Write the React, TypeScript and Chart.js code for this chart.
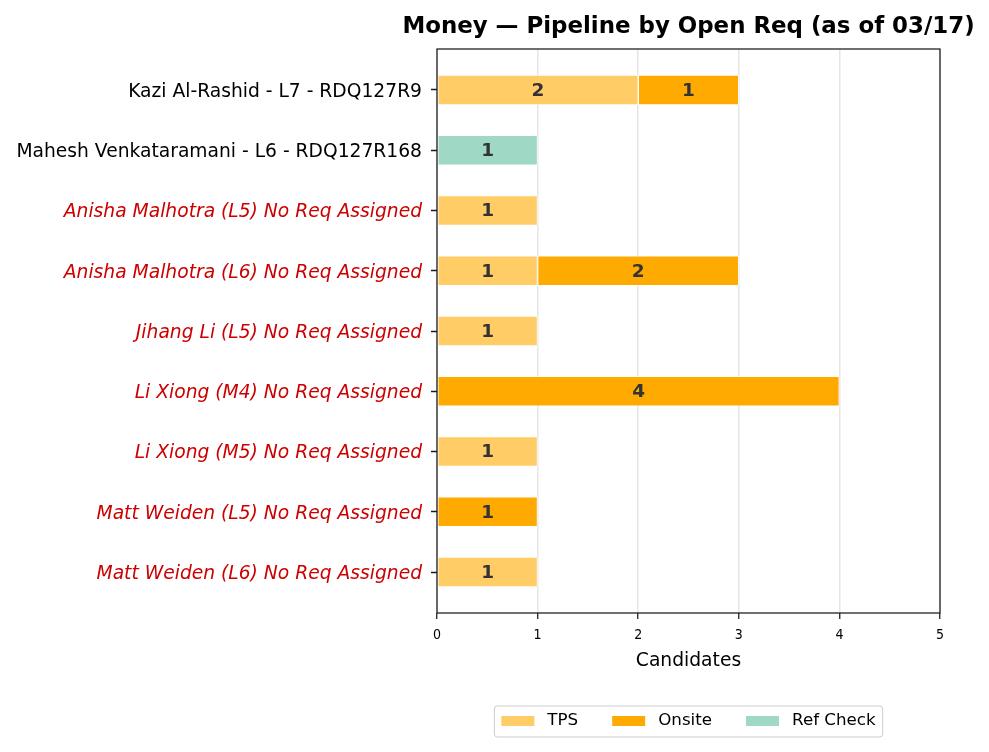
import React, { useEffect, useRef } from "react";
import { Chart, registerables } from "chart.js";

Chart.register(...registerables);

const categories = [
  "Kazi Al-Rashid - L7 - RDQ127R9",
  "Mahesh Venkataramani - L6 - RDQ127R168",
  "Anisha Malhotra (L5) No Req Assigned",
  "Anisha Malhotra (L6) No Req Assigned",
  "Jihang Li (L5) No Req Assigned",
  "Li Xiong (M4) No Req Assigned",
  "Li Xiong (M5) No Req Assigned",
  "Matt Weiden (L5) No Req Assigned",
  "Matt Weiden (L6) No Req Assigned",
];
const unassigned = [false, false, true, true, true, true, true, true, true];
const tps = [2, 0, 1, 1, 1, 0, 1, 0, 1];
const onsite = [1, 0, 0, 2, 0, 4, 0, 1, 0];
const refCheck = [0, 1, 0, 0, 0, 0, 0, 0, 0];
const seriesNames = ["TPS", "Onsite", "Ref Check"];
const seriesColors = ["#FFCC66", "#FFAA00", "#9FD8C4"];
const xTicks = [0, 1, 2, 3, 4, 5];
const titleText = "Money \u2014 Pipeline by Open Req (as of 03/17)";
const xTitle = "Candidates";

const FONT = "'DejaVu Sans', sans-serif";

const decorPlugin = {
  id: "decor",
  afterDatasetsDraw(chart: any) {
    const ctx = chart.ctx;
    ctx.save();
    ctx.font = `bold 18.5px ${FONT}`;
    ctx.fillStyle = "#333333";
    ctx.textAlign = "center";
    ctx.textBaseline = "middle";
    chart.data.datasets.forEach((ds: any, i: number) => {
      const meta = chart.getDatasetMeta(i);
      meta.data.forEach((el: any, j: number) => {
        const v = ds.data[j].x;
        if (!v) return;
        const p = el.getProps(["x", "base", "y"], true);
        ctx.fillText(String(v), (p.x + p.base) / 2, p.y + 1);
      });
    });
    ctx.restore();
  },
  afterDraw(chart: any) {
    const ctx = chart.ctx;
    const a = chart.chartArea;
    const cx = (a.left + a.right) / 2;
    ctx.save();
    // spines
    ctx.strokeStyle = "#1a1a1a";
    ctx.lineWidth = 1.25;
    ctx.strokeRect(a.left, a.top, a.right - a.left, a.bottom - a.top);
    // title
    ctx.fillStyle = "#000";
    ctx.font = `bold 22.9px ${FONT}`;
    ctx.textAlign = "center";
    ctx.textBaseline = "alphabetic";
    ctx.fillText(titleText, cx, 33);
    // x title
    ctx.font = `18.7px ${FONT}`;
    ctx.textBaseline = "middle";
    ctx.fillText(xTitle, cx, 661);
    // legend
    ctx.font = `16.7px ${FONT}`;
    const pad = 7, sw = 33, gap = 13, spacing = 34;
    const widths = seriesNames.map((n) => ctx.measureText(n).width);
    let total = pad * 2;
    widths.forEach((w, i) => {
      total += sw + gap + w + (i < widths.length - 1 ? spacing : 0);
    });
    const bx = cx - total / 2;
    const by = 706, bh = 31;
    ctx.beginPath();
    const r = 3;
    ctx.moveTo(bx + r, by);
    ctx.lineTo(bx + total - r, by);
    ctx.quadraticCurveTo(bx + total, by, bx + total, by + r);
    ctx.lineTo(bx + total, by + bh - r);
    ctx.quadraticCurveTo(bx + total, by + bh, bx + total - r, by + bh);
    ctx.lineTo(bx + r, by + bh);
    ctx.quadraticCurveTo(bx, by + bh, bx, by + bh - r);
    ctx.lineTo(bx, by + r);
    ctx.quadraticCurveTo(bx, by, bx + r, by);
    ctx.closePath();
    ctx.fillStyle = "rgba(255,255,255,0.8)";
    ctx.fill();
    ctx.strokeStyle = "#cccccc";
    ctx.lineWidth = 1;
    ctx.stroke();
    let x = bx + pad;
    seriesNames.forEach((n, i) => {
      ctx.fillStyle = seriesColors[i];
      ctx.fillRect(x, 716, sw, 10);
      x += sw + gap;
      ctx.fillStyle = "#000";
      ctx.textAlign = "left";
      ctx.textBaseline = "middle";
      ctx.fillText(n, x, 721);
      x += widths[i] + spacing;
    });
    ctx.restore();
  },
};

export default function App() {
  const ref = useRef<HTMLCanvasElement>(null);
  useEffect(() => {
    if (!ref.current) return;
    const datasets = [tps, onsite, refCheck].map((d, i) => ({
      label: seriesNames[i],
      data: d.map((v, j) => ({ x: v, y: j })),
      backgroundColor: seriesColors[i],
      borderColor: "#ffffff",
      borderWidth: 0.8,
      borderSkipped: false,
      barPercentage: 0.5,
      categoryPercentage: 1,
    }));
    const chart = new Chart(ref.current, {
      type: "bar",
      data: { datasets },
      plugins: [decorPlugin],
      options: {
        indexAxis: "y",
        responsive: false,
        animation: false,
        layout: { padding: { top: 49, right: 49, left: 0, bottom: 0 } },
        plugins: {
          legend: { display: false },
          title: { display: false },
          tooltip: { enabled: false },
        },
        scales: {
          x: {
            type: "linear",
            stacked: true,
            min: 0,
            max: 5,
            afterFit(scale: any) {
              scale.height = 139;
            },
            afterBuildTicks(scale: any) {
              scale.ticks = xTicks.map((v) => ({ value: v }));
            },
            border: { display: false },
            grid: {
              offset: false,
              color: "#e6e6e6",
              lineWidth: 1.5,
              drawTicks: true,
              tickLength: 6,
              tickColor: "#1a1a1a",
              tickWidth: 1.25,
            },
            ticks: {
              color: "#000",
              padding: 8,
              font: { family: "'DejaVu Sans Condensed', 'DejaVu Sans', sans-serif", size: 14 },
              maxRotation: 0,
            },
          },
          y: {
            type: "linear",
            stacked: true,
            reverse: true,
            offset: false,
            min: -0.68,
            max: 8.68,
            afterFit(scale: any) {
              scale.width = 437;
            },
            afterBuildTicks(scale: any) {
              scale.ticks = categories.map((_, i) => ({ value: i }));
            },
            border: { display: false },
            grid: {
              offset: false,
              drawOnChartArea: false,
              drawTicks: true,
              tickLength: 6,
              tickColor: "#1a1a1a",
              tickWidth: 1.5,
            },
            ticks: {
              autoSkip: false,
              padding: 9,
              labelOffset: 2,
              callback: (v: any) => categories[Math.round(Number(v))] ?? "",
              color: (c: any) => (unassigned[c.index] ? "#cc0000" : "#000000"),
              font: (c: any) => ({
                family: FONT,
                size: 18.7,
                style: unassigned[c.index] ? "italic" : "normal",
              }),
            },
          },
        },
      } as any,
    });
    return () => chart.destroy();
  }, []);
  return (
    <div style={{ position: "absolute", left: 0, top: 0, width: 989, height: 752, background: "#fff" }}>
      <canvas ref={ref} width={989} height={752} style={{ width: 989, height: 752, display: "block" }} />
    </div>
  );
}
